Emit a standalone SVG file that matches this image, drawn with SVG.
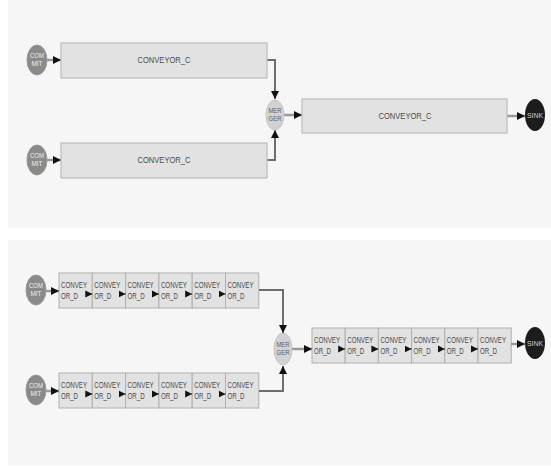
<svg xmlns="http://www.w3.org/2000/svg" width="551" height="466" viewBox="0 0 551 466">
  <style>
    .panel { fill: #f6f6f6; }
    .conv { fill: #e2e2e2; stroke: #bcbcbc; stroke-width: 1.2; }
    .cell { fill: #e2e2e2; stroke: #b0b0b0; stroke-width: 1; }
    .commit { fill: #8a8a8a; stroke: #9a9a9a; stroke-width: 1; }
    .merger { fill: #d2d2d2; stroke: #c4c4c4; stroke-width: 1; }
    .sink { fill: #1c1c1c; }
    .lbl { font-family: "Liberation Sans", Arial, sans-serif; font-size: 8.5px; fill: #4a4a4a; }
    .mid { text-anchor: middle; }
    .wlbl { font-family: "Liberation Sans", Arial, sans-serif; font-size: 7.5px; fill: #eeeeee; text-anchor: middle; }
    .glbl { font-family: "Liberation Sans", Arial, sans-serif; font-size: 7.5px; fill: #5e5e5e; text-anchor: middle; }
    .feed { fill: none; stroke: #9a9a9a; stroke-width: 2.5; }
    .link { fill: none; stroke: #6e6e6e; stroke-width: 2; }
    .tiny { fill: none; stroke: #111; stroke-width: 1; }
  </style>
  <defs>
    <marker id="arrow" viewBox="0 0 10 10" refX="10" refY="5" markerWidth="8" markerHeight="9" markerUnits="userSpaceOnUse" orient="auto">
      <path d="M0,0 L10,5 L0,10 z" fill="#111"/>
    </marker>
    <marker id="arrowSm" viewBox="0 0 10 10" refX="10" refY="5" markerWidth="7" markerHeight="10" markerUnits="userSpaceOnUse" orient="auto">
      <path d="M0,0 L10,5 L0,10 z" fill="#111"/>
    </marker>
  </defs>

  <!-- background panels -->
  <rect class="panel" x="8" y="0" width="543" height="228"/>
  <rect class="panel" x="8" y="240" width="543" height="225"/>

  <!-- ===== upper model: single conveyors ===== -->
  <g id="connectors-top">
    <path class="feed" d="M47,60 H61" marker-end="url(#arrow)"/>
    <path class="feed" d="M47,160 H61" marker-end="url(#arrow)"/>
    <path class="link" d="M267,60 H275 V99" marker-end="url(#arrow)"/>
    <path class="link" d="M267,160 H275 V130" marker-end="url(#arrow)"/>
    <path class="feed" d="M284,115 H302" marker-end="url(#arrow)"/>
    <path class="feed" d="M507,116 H525" marker-end="url(#arrow)"/>
  </g>

  <g id="commit-top-1">
    <ellipse class="commit" cx="37" cy="60" rx="10" ry="15"/>
    <text class="wlbl" x="37" y="58" textLength="14" lengthAdjust="spacingAndGlyphs">COM</text>
    <text class="wlbl" x="37" y="66" textLength="11" lengthAdjust="spacingAndGlyphs">MIT</text>
  </g>
  <g id="commit-top-2">
    <ellipse class="commit" cx="37" cy="160" rx="10" ry="15"/>
    <text class="wlbl" x="37" y="158" textLength="14" lengthAdjust="spacingAndGlyphs">COM</text>
    <text class="wlbl" x="37" y="166" textLength="11" lengthAdjust="spacingAndGlyphs">MIT</text>
  </g>
  <g id="conveyor-top-1">
    <rect class="conv" x="61" y="43" width="206" height="35"/>
    <text class="lbl mid" x="164" y="63" textLength="53" lengthAdjust="spacingAndGlyphs">CONVEYOR_C</text>
  </g>
  <g id="conveyor-top-2">
    <rect class="conv" x="61" y="143" width="206" height="35"/>
    <text class="lbl mid" x="164" y="163" textLength="53" lengthAdjust="spacingAndGlyphs">CONVEYOR_C</text>
  </g>
  <g id="merger-top">
    <ellipse class="merger" cx="275" cy="115" rx="9" ry="15"/>
    <text class="glbl" x="275" y="113" textLength="13" lengthAdjust="spacingAndGlyphs">MER</text>
    <text class="glbl" x="275" y="121" textLength="13" lengthAdjust="spacingAndGlyphs">GER</text>
  </g>
  <g id="conveyor-top-3">
    <rect class="conv" x="302" y="99" width="205" height="34"/>
    <text class="lbl mid" x="405" y="119" textLength="53" lengthAdjust="spacingAndGlyphs">CONVEYOR_C</text>
  </g>
  <g id="sink-top">
    <ellipse class="sink" cx="535" cy="115" rx="10" ry="16"/>
    <text class="wlbl" x="535" y="118" textLength="16" lengthAdjust="spacingAndGlyphs" style="fill:#cfcfcf">SINK</text>
  </g>

  <!-- ===== lower model: chained conveyor segments ===== -->
  <g id="commit-bottom-1">
    <ellipse class="commit" cx="36" cy="290" rx="10" ry="15"/>
    <text class="wlbl" x="36" y="288" textLength="14" lengthAdjust="spacingAndGlyphs">COM</text>
    <text class="wlbl" x="36" y="296" textLength="11" lengthAdjust="spacingAndGlyphs">MIT</text>
  </g>
  <g id="commit-bottom-2">
    <ellipse class="commit" cx="36" cy="390" rx="10" ry="15"/>
    <text class="wlbl" x="36" y="388" textLength="14" lengthAdjust="spacingAndGlyphs">COM</text>
    <text class="wlbl" x="36" y="396" textLength="11" lengthAdjust="spacingAndGlyphs">MIT</text>
  </g>

  <!-- upper chain -->
  <g id="conv-a1"><rect class="cell" x="59" y="273" width="33.3" height="35"/><text class="lbl" x="61" y="288" textLength="26" lengthAdjust="spacingAndGlyphs">CONVEY</text><text class="lbl" x="61" y="299" textLength="17" lengthAdjust="spacingAndGlyphs">OR_D</text></g>
  <g id="conv-a2"><rect class="cell" x="92.3" y="273" width="33.3" height="35"/><text class="lbl" x="94.3" y="288" textLength="26" lengthAdjust="spacingAndGlyphs">CONVEY</text><text class="lbl" x="94.3" y="299" textLength="17" lengthAdjust="spacingAndGlyphs">OR_D</text></g>
  <g id="conv-a3"><rect class="cell" x="125.6" y="273" width="33.3" height="35"/><text class="lbl" x="127.6" y="288" textLength="26" lengthAdjust="spacingAndGlyphs">CONVEY</text><text class="lbl" x="127.6" y="299" textLength="17" lengthAdjust="spacingAndGlyphs">OR_D</text></g>
  <g id="conv-a4"><rect class="cell" x="158.9" y="273" width="33.3" height="35"/><text class="lbl" x="160.9" y="288" textLength="26" lengthAdjust="spacingAndGlyphs">CONVEY</text><text class="lbl" x="160.9" y="299" textLength="17" lengthAdjust="spacingAndGlyphs">OR_D</text></g>
  <g id="conv-a5"><rect class="cell" x="192.2" y="273" width="33.3" height="35"/><text class="lbl" x="194.2" y="288" textLength="26" lengthAdjust="spacingAndGlyphs">CONVEY</text><text class="lbl" x="194.2" y="299" textLength="17" lengthAdjust="spacingAndGlyphs">OR_D</text></g>
  <g id="conv-a6"><rect class="cell" x="225.5" y="273" width="33.3" height="35"/><text class="lbl" x="227.5" y="288" textLength="26" lengthAdjust="spacingAndGlyphs">CONVEY</text><text class="lbl" x="227.5" y="299" textLength="17" lengthAdjust="spacingAndGlyphs">OR_D</text></g>

  <!-- lower chain -->
  <g id="conv-b1"><rect class="cell" x="59" y="373" width="33.3" height="35"/><text class="lbl" x="61" y="388" textLength="26" lengthAdjust="spacingAndGlyphs">CONVEY</text><text class="lbl" x="61" y="399" textLength="17" lengthAdjust="spacingAndGlyphs">OR_D</text></g>
  <g id="conv-b2"><rect class="cell" x="92.3" y="373" width="33.3" height="35"/><text class="lbl" x="94.3" y="388" textLength="26" lengthAdjust="spacingAndGlyphs">CONVEY</text><text class="lbl" x="94.3" y="399" textLength="17" lengthAdjust="spacingAndGlyphs">OR_D</text></g>
  <g id="conv-b3"><rect class="cell" x="125.6" y="373" width="33.3" height="35"/><text class="lbl" x="127.6" y="388" textLength="26" lengthAdjust="spacingAndGlyphs">CONVEY</text><text class="lbl" x="127.6" y="399" textLength="17" lengthAdjust="spacingAndGlyphs">OR_D</text></g>
  <g id="conv-b4"><rect class="cell" x="158.9" y="373" width="33.3" height="35"/><text class="lbl" x="160.9" y="388" textLength="26" lengthAdjust="spacingAndGlyphs">CONVEY</text><text class="lbl" x="160.9" y="399" textLength="17" lengthAdjust="spacingAndGlyphs">OR_D</text></g>
  <g id="conv-b5"><rect class="cell" x="192.2" y="373" width="33.3" height="35"/><text class="lbl" x="194.2" y="388" textLength="26" lengthAdjust="spacingAndGlyphs">CONVEY</text><text class="lbl" x="194.2" y="399" textLength="17" lengthAdjust="spacingAndGlyphs">OR_D</text></g>
  <g id="conv-b6"><rect class="cell" x="225.5" y="373" width="33.3" height="35"/><text class="lbl" x="227.5" y="388" textLength="26" lengthAdjust="spacingAndGlyphs">CONVEY</text><text class="lbl" x="227.5" y="399" textLength="17" lengthAdjust="spacingAndGlyphs">OR_D</text></g>

  <g id="merger-bottom">
    <ellipse class="merger" cx="283" cy="349" rx="9" ry="16"/>
    <text class="glbl" x="283" y="347" textLength="13" lengthAdjust="spacingAndGlyphs">MER</text>
    <text class="glbl" x="283" y="355" textLength="13" lengthAdjust="spacingAndGlyphs">GER</text>
  </g>

  <!-- outgoing chain -->
  <g id="conv-c1"><rect class="cell" x="312" y="328" width="33.2" height="35"/><text class="lbl" x="314" y="343" textLength="26" lengthAdjust="spacingAndGlyphs">CONVEY</text><text class="lbl" x="314" y="354" textLength="17" lengthAdjust="spacingAndGlyphs">OR_D</text></g>
  <g id="conv-c2"><rect class="cell" x="345.2" y="328" width="33.2" height="35"/><text class="lbl" x="347.2" y="343" textLength="26" lengthAdjust="spacingAndGlyphs">CONVEY</text><text class="lbl" x="347.2" y="354" textLength="17" lengthAdjust="spacingAndGlyphs">OR_D</text></g>
  <g id="conv-c3"><rect class="cell" x="378.4" y="328" width="33.2" height="35"/><text class="lbl" x="380.4" y="343" textLength="26" lengthAdjust="spacingAndGlyphs">CONVEY</text><text class="lbl" x="380.4" y="354" textLength="17" lengthAdjust="spacingAndGlyphs">OR_D</text></g>
  <g id="conv-c4"><rect class="cell" x="411.6" y="328" width="33.2" height="35"/><text class="lbl" x="413.6" y="343" textLength="26" lengthAdjust="spacingAndGlyphs">CONVEY</text><text class="lbl" x="413.6" y="354" textLength="17" lengthAdjust="spacingAndGlyphs">OR_D</text></g>
  <g id="conv-c5"><rect class="cell" x="444.8" y="328" width="33.2" height="35"/><text class="lbl" x="446.8" y="343" textLength="26" lengthAdjust="spacingAndGlyphs">CONVEY</text><text class="lbl" x="446.8" y="354" textLength="17" lengthAdjust="spacingAndGlyphs">OR_D</text></g>
  <g id="conv-c6"><rect class="cell" x="478" y="328" width="33.2" height="35"/><text class="lbl" x="480" y="343" textLength="26" lengthAdjust="spacingAndGlyphs">CONVEY</text><text class="lbl" x="480" y="354" textLength="17" lengthAdjust="spacingAndGlyphs">OR_D</text></g>

  <g id="sink-bottom">
    <ellipse class="sink" cx="535" cy="343" rx="10" ry="16"/>
    <text class="wlbl" x="535" y="346" textLength="16" lengthAdjust="spacingAndGlyphs" style="fill:#cfcfcf">SINK</text>
  </g>

  <!-- connectors of the lower model, drawn last so segment arrows sit on top -->
  <g id="connectors-bottom">
    <path class="feed" d="M46,291 H59" marker-end="url(#arrow)"/>
    <path class="feed" d="M46,391 H59" marker-end="url(#arrow)"/>
    <path class="link" d="M259,290 H283 V333" marker-end="url(#arrow)"/>
    <path class="link" d="M259,391 H283 V366" marker-end="url(#arrow)"/>
    <path class="feed" d="M292,349 H312" marker-end="url(#arrow)"/>
    <path class="feed" d="M511,344 H525" marker-end="url(#arrow)"/>
    <!-- links between neighbouring segments -->
    <path class="tiny" d="M91.3,294 H92.3" marker-end="url(#arrowSm)"/>
    <path class="tiny" d="M124.6,294 H125.6" marker-end="url(#arrowSm)"/>
    <path class="tiny" d="M157.9,294 H158.9" marker-end="url(#arrowSm)"/>
    <path class="tiny" d="M191.2,294 H192.2" marker-end="url(#arrowSm)"/>
    <path class="tiny" d="M224.5,294 H225.5" marker-end="url(#arrowSm)"/>
    <path class="tiny" d="M91.3,394 H92.3" marker-end="url(#arrowSm)"/>
    <path class="tiny" d="M124.6,394 H125.6" marker-end="url(#arrowSm)"/>
    <path class="tiny" d="M157.9,394 H158.9" marker-end="url(#arrowSm)"/>
    <path class="tiny" d="M191.2,394 H192.2" marker-end="url(#arrowSm)"/>
    <path class="tiny" d="M224.5,394 H225.5" marker-end="url(#arrowSm)"/>
    <path class="tiny" d="M344.2,349 H345.2" marker-end="url(#arrowSm)"/>
    <path class="tiny" d="M377.4,349 H378.4" marker-end="url(#arrowSm)"/>
    <path class="tiny" d="M410.6,349 H411.6" marker-end="url(#arrowSm)"/>
    <path class="tiny" d="M443.8,349 H444.8" marker-end="url(#arrowSm)"/>
    <path class="tiny" d="M477,349 H478" marker-end="url(#arrowSm)"/>
  </g>
</svg>
